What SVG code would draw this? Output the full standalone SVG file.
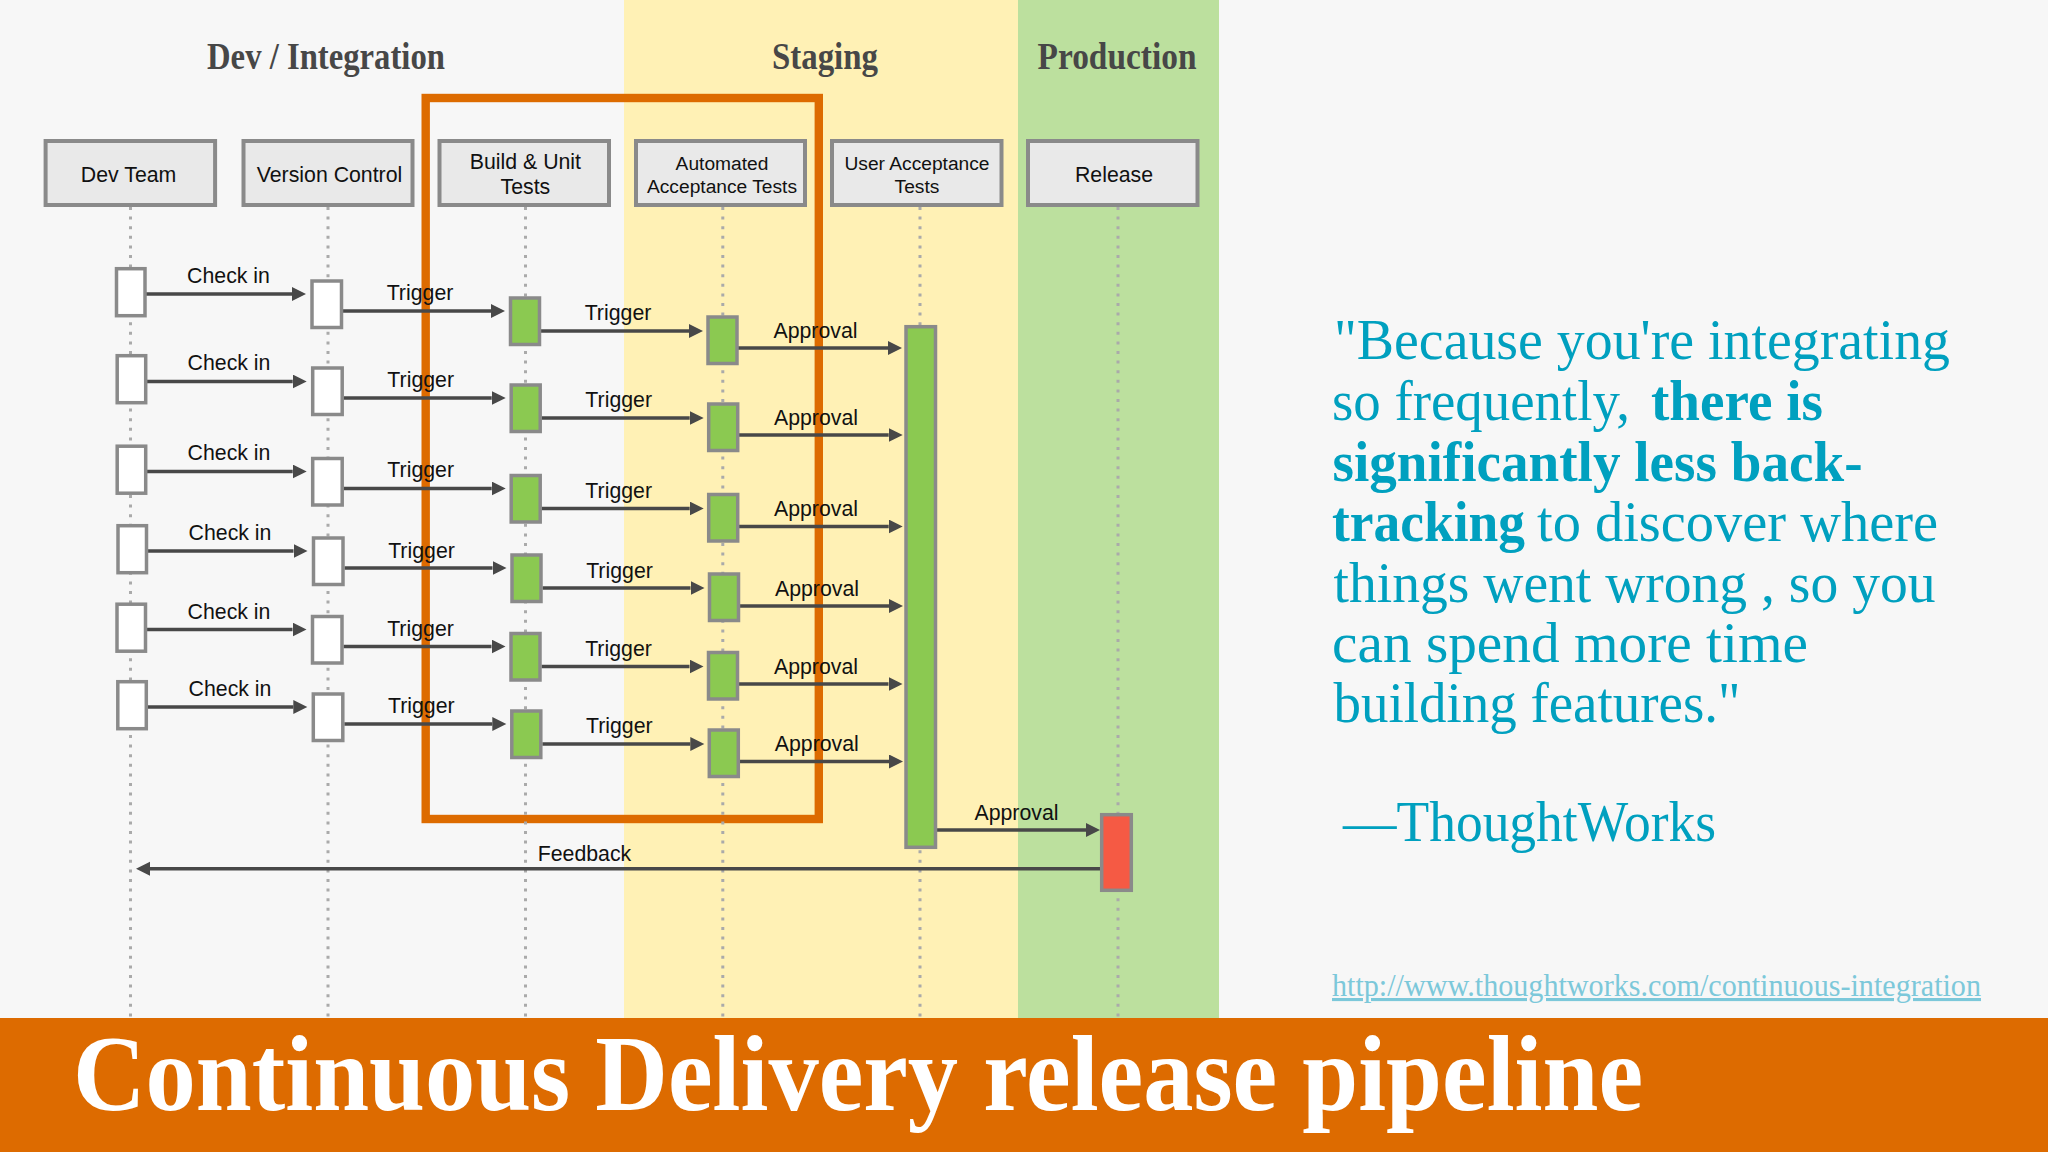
<svg xmlns="http://www.w3.org/2000/svg" width="2048" height="1152" viewBox="0 0 2048 1152">
<defs>
<marker id="arrow" markerUnits="userSpaceOnUse" markerWidth="15" markerHeight="15" refX="0" refY="7" orient="auto"><path d="M0 0L14 7L0 14Z" fill="#484848"/></marker>
</defs>
<style>
.hd{fill:#e9e9e9;stroke:#8a8a8a;stroke-width:4}
.w{fill:#fff;stroke:#8a8a8a;stroke-width:3.5}
.g{fill:#8bc951;stroke:#8a8a8a;stroke-width:3.5}
.r{fill:#f55a44;stroke:#8a8a8a;stroke-width:3.5}
.life{stroke:#aaa;stroke-width:3;stroke-dasharray:3 6.6;fill:none}
.c{stroke:#484848;stroke-width:3.5;fill:none;marker-end:url(#arrow)}
text{font-family:"Liberation Sans",Arial,sans-serif;fill:#111}
.l{font-size:21.3px;text-anchor:middle}
.s{font-size:19.2px;text-anchor:middle}
.t{font-family:"Liberation Serif",serif;font-size:37px;font-weight:700;fill:#474747}
.q{font-family:"Liberation Serif",serif;font-size:56px;fill:#00a0bf}
.qb{font-family:"Liberation Serif",serif;font-size:56px;font-weight:700;fill:#00a0bf}
</style>
<rect width="2048" height="1152" fill="#f7f7f7"/>
<rect x="624" width="394" height="1018" fill="#fff1b5"/>
<rect x="1018" width="201" height="1018" fill="#bce09e"/>
<rect x="425.7" y="98" width="393.1" height="721" fill="none" stroke="#dd6b00" stroke-width="8.4"/>
<text class="t" x="207" y="69" textLength="238" lengthAdjust="spacingAndGlyphs">Dev / Integration</text>
<text class="t" x="772" y="69" textLength="106" lengthAdjust="spacingAndGlyphs">Staging</text>
<text class="t" x="1037.5" y="69" textLength="159" lengthAdjust="spacingAndGlyphs">Production</text>
<g id="lifelines">
<path class="life" d="M130.5 207V1018"/><path class="life" d="M328 207V1018"/><path class="life" d="M525.5 207V1018"/><path class="life" d="M722.8 207V1018"/><path class="life" d="M920 207V1018"/><path class="life" d="M1118 207V1018"/>
</g>
<g id="head-dev"><rect class="hd" x="45.6" y="141" width="169.5" height="64"/><text class="l" x="128.6" y="181.7">Dev Team</text></g>
<g id="head-vc"><rect class="hd" x="243.5" y="141" width="169" height="64"/><text class="l" x="329.5" y="181.7">Version Control</text></g>
<g id="head-build"><rect class="hd" x="439.5" y="141" width="169.5" height="64"/><text class="l" x="525.4" y="169">Build &amp; Unit</text><text class="l" x="525.4" y="194">Tests</text></g>
<g id="head-aat"><rect class="hd" x="636" y="141" width="169" height="64"/><text class="s" x="722" y="170">Automated</text><text class="s" x="722" y="193">Acceptance Tests</text></g>
<g id="head-uat"><rect class="hd" x="832" y="141" width="169.5" height="64"/><text class="s" x="917" y="170">User Acceptance</text><text class="s" x="917" y="193">Tests</text></g>
<g id="head-rel"><rect class="hd" x="1028" y="141" width="169.5" height="64"/><text class="l" x="1114" y="181.7">Release</text></g>

<g id="connectors">
<path class="c" d="M146 294H292"/><path class="c" d="M343 311H491"/><path class="c" d="M541 331H689"/><path class="c" d="M738 348H888"/>
<path class="c" d="M146.7 381.5H292.7"/><path class="c" d="M343.7 398H491.7"/><path class="c" d="M541.7 418H689.7"/><path class="c" d="M738.7 435H888.7"/>
<path class="c" d="M146.7 471.5H292.7"/><path class="c" d="M343.7 488.5H491.7"/><path class="c" d="M541.7 508.5H689.7"/><path class="c" d="M738.7 526.5H888.7"/>
<path class="c" d="M147.5 551H293.5"/><path class="c" d="M344.5 568H492.5"/><path class="c" d="M542.5 588H690.5"/><path class="c" d="M739.5 606H889"/>
<path class="c" d="M146.5 629.5H292.5"/><path class="c" d="M343.5 646.5H491.5"/><path class="c" d="M541.5 666.5H689.5"/><path class="c" d="M738.5 684H888.5"/>
<path class="c" d="M147.3 707H293.3"/><path class="c" d="M344.3 724H492.3"/><path class="c" d="M542.3 744H690.3"/><path class="c" d="M739.3 761.5H889"/>
<path class="c" d="M937 830H1086"/>
<path class="c" d="M1100 868.7H150"/>
</g>

<g id="dev-1"><rect class="w" x="116.5" y="268.7" width="28.5" height="47"/></g>
<g id="vc-1"><rect class="w" x="312" y="281" width="29.5" height="46.5"/></g>
<g id="build-1"><rect class="g" x="510.5" y="298" width="29" height="46.5"/></g>
<g id="aat-1"><rect class="g" x="708" y="317" width="29" height="46.5"/></g>
<g id="dev-2"><rect class="w" x="117.2" y="355.7" width="28.5" height="47"/></g>
<g id="vc-2"><rect class="w" x="312.7" y="368" width="29.5" height="46.5"/></g>
<g id="build-2"><rect class="g" x="511.2" y="385" width="29" height="46.5"/></g>
<g id="aat-2"><rect class="g" x="708.7" y="404" width="29" height="46.5"/></g>
<g id="dev-3"><rect class="w" x="117.2" y="446.2" width="28.5" height="47"/></g>
<g id="vc-3"><rect class="w" x="312.7" y="458.5" width="29.5" height="46.5"/></g>
<g id="build-3"><rect class="g" x="511.2" y="475.5" width="29" height="46.5"/></g>
<g id="aat-3"><rect class="g" x="708.7" y="494.5" width="29" height="46.5"/></g>
<g id="dev-4"><rect class="w" x="118" y="525.7" width="28.5" height="47"/></g>
<g id="vc-4"><rect class="w" x="313.5" y="538" width="29.5" height="46.5"/></g>
<g id="build-4"><rect class="g" x="512" y="555" width="29" height="46.5"/></g>
<g id="aat-4"><rect class="g" x="709.5" y="574" width="29" height="46.5"/></g>
<g id="dev-5"><rect class="w" x="117" y="604.2" width="28.5" height="47"/></g>
<g id="vc-5"><rect class="w" x="312.5" y="616.5" width="29.5" height="46.5"/></g>
<g id="build-5"><rect class="g" x="511" y="633.5" width="29" height="46.5"/></g>
<g id="aat-5"><rect class="g" x="708.5" y="652.5" width="29" height="46.5"/></g>
<g id="dev-6"><rect class="w" x="117.8" y="681.7" width="28.5" height="47"/></g>
<g id="vc-6"><rect class="w" x="313.3" y="694" width="29.5" height="46.5"/></g>
<g id="build-6"><rect class="g" x="511.8" y="711" width="29" height="46.5"/></g>
<g id="aat-6"><rect class="g" x="709.3" y="730" width="29" height="46.5"/></g>
<g id="uat-bar"><rect class="g" x="906" y="326.7" width="29.5" height="520.6"/></g>
<g id="release-bar"><rect class="r" x="1101.7" y="814.7" width="29.6" height="75.6"/></g>

<g id="labels">
<text class="l" x="228.5" y="283">Check in</text><text class="l" x="420" y="300">Trigger</text><text class="l" x="618" y="320">Trigger</text><text class="l" x="815.5" y="338">Approval</text>
<text class="l" x="229" y="369.5">Check in</text><text class="l" x="420.7" y="387">Trigger</text><text class="l" x="618.7" y="407">Trigger</text><text class="l" x="816" y="425">Approval</text>
<text class="l" x="229" y="459.5">Check in</text><text class="l" x="420.7" y="477">Trigger</text><text class="l" x="618.7" y="497.5">Trigger</text><text class="l" x="816" y="515.5">Approval</text>
<text class="l" x="230" y="540">Check in</text><text class="l" x="421.5" y="557.5">Trigger</text><text class="l" x="619.5" y="577.5">Trigger</text><text class="l" x="817" y="595.5">Approval</text>
<text class="l" x="229" y="618.5">Check in</text><text class="l" x="420.5" y="635.5">Trigger</text><text class="l" x="618.5" y="655.5">Trigger</text><text class="l" x="816" y="674">Approval</text>
<text class="l" x="230" y="696">Check in</text><text class="l" x="421.3" y="713">Trigger</text><text class="l" x="619.3" y="733">Trigger</text><text class="l" x="816.8" y="751">Approval</text>
<text class="l" x="1016.5" y="820">Approval</text>
<text class="l" x="584.5" y="861">Feedback</text>
</g>

<g id="quote">
<text class="q" x="1334" y="359" textLength="616" lengthAdjust="spacingAndGlyphs">"Because you're integrating</text>
<text class="q" x="1332" y="420" textLength="298" lengthAdjust="spacingAndGlyphs">so frequently,</text>
<text class="qb" x="1651" y="420" textLength="172" lengthAdjust="spacingAndGlyphs">there is</text>
<text class="qb" x="1332.5" y="481" textLength="530" lengthAdjust="spacingAndGlyphs">significantly less back-</text>
<text class="qb" x="1332" y="541" textLength="193" lengthAdjust="spacingAndGlyphs">tracking</text>
<text class="q" x="1537" y="541" textLength="401" lengthAdjust="spacingAndGlyphs">to discover where</text>
<text class="q" x="1333.5" y="602" textLength="602" lengthAdjust="spacingAndGlyphs">things went wrong , so you</text>
<text class="q" x="1332" y="662" textLength="476" lengthAdjust="spacingAndGlyphs">can spend more time</text>
<text class="q" x="1333.5" y="722" textLength="407" lengthAdjust="spacingAndGlyphs">building features."</text>
<text class="q" x="1343" y="841" textLength="373" lengthAdjust="spacingAndGlyphs">—ThoughtWorks</text>
</g>
<text x="1332" y="996" textLength="649" lengthAdjust="spacingAndGlyphs" style="font-family:'Liberation Serif',serif;font-size:31px;fill:#7cc8da;text-decoration:underline">http://www.thoughtworks.com/continuous-integration</text>

<rect y="1018" width="2048" height="134" fill="#dd6b00"/>
<text x="73" y="1110" textLength="1570" lengthAdjust="spacingAndGlyphs" style="font-family:'Liberation Serif',serif;font-size:108px;font-weight:700;fill:#fff">Continuous Delivery release pipeline</text>
</svg>
